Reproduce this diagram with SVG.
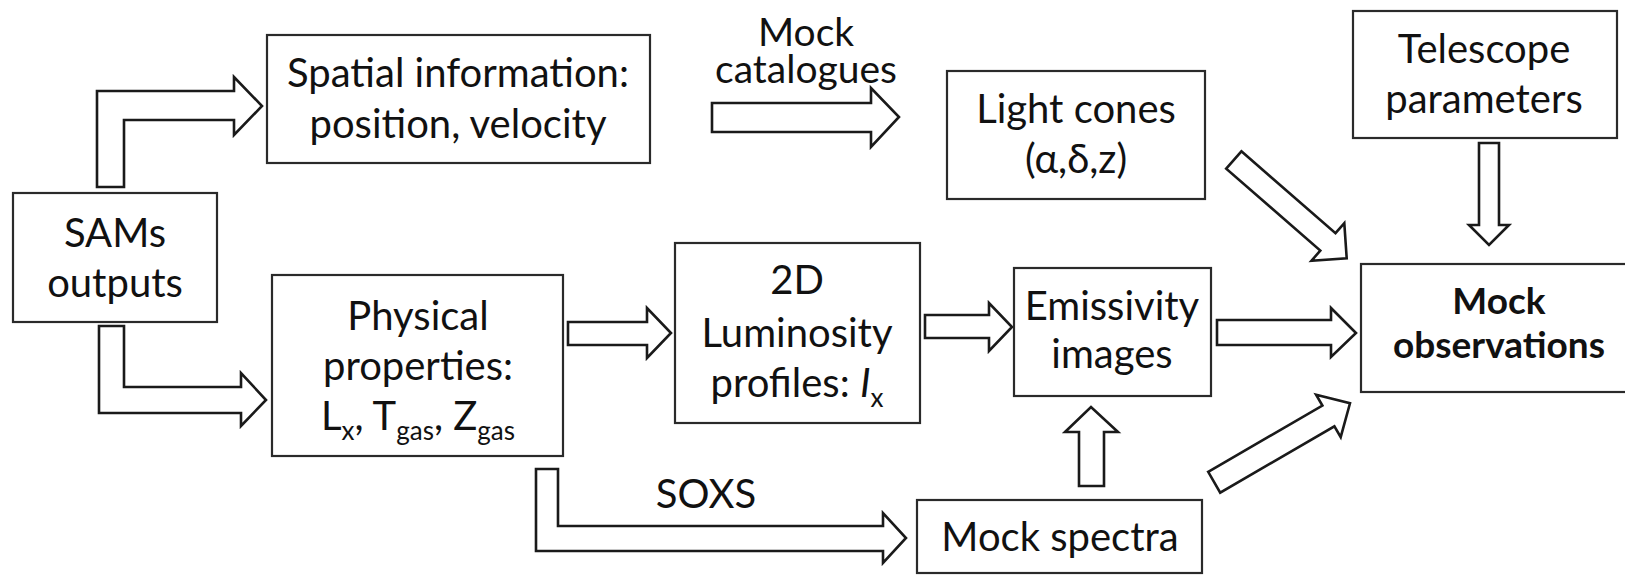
<svg xmlns="http://www.w3.org/2000/svg" width="1625" height="575" viewBox="0 0 1625 575">
<style>
.box{fill:#fff;stroke:#2a2a2a;stroke-width:2.2}
.arr{fill:#fff;stroke:#1a1a1a;stroke-width:2.6;stroke-linejoin:miter}
text{font-family:Lato,"Liberation Sans",sans-serif;font-size:40px;fill:#111;text-anchor:middle}
.b{font-weight:bold;font-size:37px}
.sm{font-size:39px}
.sub{font-size:26px}
</style>
<rect width="1625" height="575" fill="#fff"/>
<g id="connectors">
<polygon class="arr" points="97,187 97,91 234,91 234,77 262,106 234,135 234,120 124,120 124,187"/>
<polygon class="arr" points="99,326 124,326 124,387 241,387 241,373 266,400 241,426 241,413 99,413"/>
<polygon class="arr" points="568,322 647,322 647,308 671,333 647,358 647,345 568,345"/>
<polygon class="arr" points="536,469 558,469 558,526 883,526 883,513 906,538 883,563 883,551 536,551"/>
<polygon class="arr" points="712,103 871,103 871,88 899,117 871,147 871,132 712,132"/>
<polygon class="arr" points="1241.4,151.3 1335.5,233.2 1344.3,223.1 1346.7,258.3 1311.5,260.7 1320.3,250.6 1226.2,168.7"/>
<polygon class="arr" points="1479,143 1499,143 1499,225 1509,225 1489,245 1469,225 1479,225"/>
<polygon class="arr" points="925,315 989,315 989,303 1012,327 989,351 989,338 925,338"/>
<polygon class="arr" points="1217,320 1331,320 1331,308 1356,333 1331,357 1331,345 1217,345"/>
<polygon class="arr" points="1079,486 1104,486 1104,432 1118,432 1091,407 1065,432 1079,432"/>
<polygon class="arr" points="1208.2,471.8 1322.4,405.5 1316.1,394.7 1350,403.3 1340.7,437.1 1334.4,426.3 1220.2,492.6"/>
</g>
<g id="label-mock-catalogues">
<text class="sm" x="806" y="46">Mock</text>
<text class="sm" x="806" y="83">catalogues</text>
</g>
<g id="label-soxs">
<text x="706" y="508">SOXS</text>
</g>
<g id="sams">
<rect class="box" x="13" y="193" width="204" height="129"/>
<text x="115" y="247">SAMs</text>
<text x="115" y="297">outputs</text>
</g>
<g id="spatial">
<rect class="box" x="267" y="35" width="383" height="128"/>
<text x="458" y="87">Spatial information:</text>
<text x="458" y="138">position, velocity</text>
</g>
<g id="physical">
<rect class="box" x="272" y="275" width="291" height="181"/>
<text x="418" y="330">Physical</text>
<text x="418" y="380">properties:</text>
<text x="418" y="430">L<tspan class="sub" dy="10">x</tspan><tspan dy="-10">, T</tspan><tspan class="sub" dy="10">gas</tspan><tspan dy="-10">, Z</tspan><tspan class="sub" dy="10">gas</tspan></text>
</g>
<g id="luminosity">
<rect class="box" x="675" y="243" width="245" height="180"/>
<text x="797" y="294">2D</text>
<text x="797" y="347">Luminosity</text>
<text x="797" y="397">profiles: <tspan font-style="italic">I</tspan><tspan class="sub" dy="10">x</tspan></text>
</g>
<g id="light-cones">
<rect class="box" x="947" y="71" width="258" height="128"/>
<text x="1076" y="123">Light cones</text>
<text x="1076" y="173">(α,δ,z)</text>
</g>
<g id="telescope">
<rect class="box" x="1353" y="11" width="264" height="127"/>
<text x="1484" y="63">Telescope</text>
<text x="1484" y="113">parameters</text>
</g>
<g id="emissivity">
<rect class="box" x="1014" y="268" width="197" height="128"/>
<text x="1112" y="320">Emissivity</text>
<text x="1112" y="368">images</text>
</g>
<g id="mock-spectra">
<rect class="box" x="917" y="500" width="285" height="73"/>
<text x="1060" y="551">Mock spectra</text>
</g>
<g id="mock-observations">
<rect class="box" x="1361" y="264" width="270" height="128"/>
<text class="b" x="1499" y="314">Mock</text>
<text class="b" x="1499" y="358">observations</text>
</g>
</svg>
